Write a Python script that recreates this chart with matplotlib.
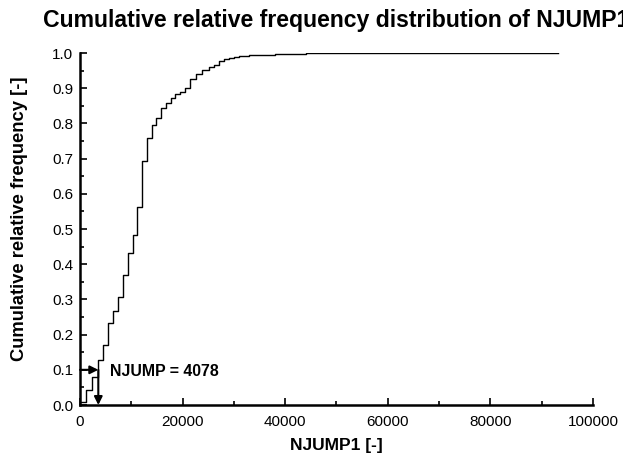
import numpy as np
import matplotlib
matplotlib.use("Agg")
import matplotlib.pyplot as plt
from matplotlib.ticker import MultipleLocator

plt.rcParams['font.family'] = ['Liberation Sans', 'DejaVu Sans']

# step positions (NJUMP1) and cumulative relative frequency after each step
njump = [0, 1200, 2300, 3500, 4570, 5550, 6470, 7450, 8430, 9410, 10250,
         11040, 12100, 13080, 13980, 14900, 15820, 16670, 17650, 18500,
         19500, 20500, 21500, 22550, 23850, 25150, 26130, 27110, 28100,
         29080, 30060, 31040, 32000, 33000, 34500, 36000, 38000, 40000,
         42000, 44000, 93200]
cum_freq = [0.008, 0.042, 0.080, 0.128, 0.170, 0.232, 0.268, 0.308, 0.369,
            0.431, 0.483, 0.563, 0.694, 0.758, 0.795, 0.814, 0.843, 0.859,
            0.871, 0.883, 0.890, 0.902, 0.926, 0.939, 0.952, 0.961, 0.966,
            0.977, 0.983, 0.987, 0.989, 0.991, 0.992, 0.993, 0.994, 0.995,
            0.996, 0.997, 0.998, 0.999, 1.000]

level = 0.1
njump_at_level = 4078
arrow_x = 3570  # where the step crosses the level on the drawn curve

fig = plt.figure(figsize=(6.23, 4.59), dpi=100)
ax = fig.add_axes([0.1284, 0.1176, 0.8234, 0.7669])

ax.step(njump, cum_freq, where='post', color='black', lw=1.0)

# arrows marking the level crossing
ax.annotate('', xy=(arrow_x, level), xytext=(0, level),
            arrowprops=dict(arrowstyle='-|>', color='black', lw=1.5,
                            mutation_scale=12, shrinkA=0, shrinkB=0))
ax.annotate('', xy=(arrow_x, 0), xytext=(arrow_x, level),
            arrowprops=dict(arrowstyle='-|>', color='black', lw=1.5,
                            mutation_scale=12, shrinkA=0, shrinkB=0))
ax.text(5850, level - 0.005, f'NJUMP = {njump_at_level}', fontsize=11.4,
        fontweight='bold', va='center', ha='left')

ax.set_xlim(0, 100000)
ax.set_ylim(0, 1.0)
ax.xaxis.set_major_locator(MultipleLocator(20000))
ax.xaxis.set_minor_locator(MultipleLocator(10000))
ax.yaxis.set_major_locator(MultipleLocator(0.1))
ax.yaxis.set_minor_locator(MultipleLocator(0.05))
ax.yaxis.set_major_formatter(plt.FuncFormatter(lambda v, p: f'{v:.1f}'))
ax.tick_params(which='both', direction='in', labelsize=11, width=1.2)
ax.tick_params(which='major', length=5)
ax.tick_params(which='minor', length=3)
ax.tick_params(axis='x', which='major', pad=7)
ax.tick_params(axis='y', which='major', pad=5)
for s in ['top', 'right']:
    ax.spines[s].set_visible(False)
for s in ['left', 'bottom']:
    ax.spines[s].set_linewidth(1.8)

ax.set_xlabel('NJUMP1 [-]', fontsize=12.5, fontweight='bold', labelpad=7)
ax.set_ylabel('Cumulative relative frequency [-]', fontsize=13.2,
              fontweight='bold')
ax.yaxis.set_label_coords(-0.102, 0.53)

# the source figure's title runs past the right edge
fig.text(43 / 623, 1 - 21 / 459, 'Cumulative relative frequency distribution of NJUMP1',
         fontsize=16.6, fontweight='bold', ha='left', va='center')

fig.savefig('out.png', dpi=100)
